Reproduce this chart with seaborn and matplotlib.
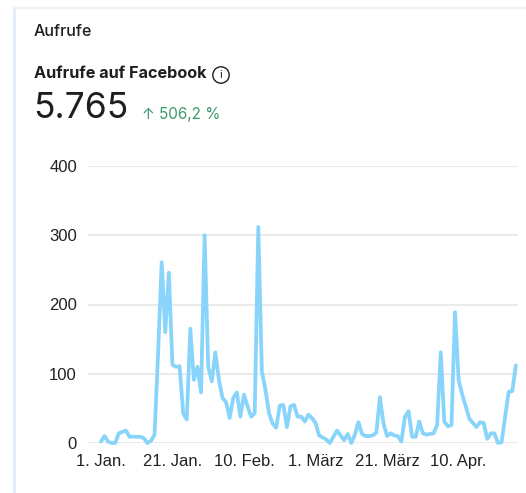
import matplotlib
matplotlib.use('Agg')  # no display
import matplotlib.pyplot as plt
from matplotlib.lines import Line2D
from matplotlib.patches import Circle
from matplotlib.ticker import FixedLocator, FixedFormatter
import numpy as np
import pandas as pd
import seaborn as sns

# daily views on Facebook, starting 1 Jan 2024
start_date = '2024-01-01'
views = [
    2, 10, 2, 0, 0, 14, 16, 18, 9, 9,
    9, 9, 7, 0, 3, 12, 130, 261, 160, 246,
    113, 110, 111, 43, 34, 165, 91, 110, 73, 300,
    110, 89, 131, 91, 65, 59, 36, 65, 73, 38,
    70, 53, 38, 43, 312, 103, 77, 43, 28, 22,
    54, 55, 23, 53, 55, 38, 38, 31, 41, 36,
    29, 11, 8, 5, 0, 9, 18, 11, 4, 13,
    0, 12, 30, 13, 10, 10, 11, 15, 66, 28,
    10, 14, 11, 10, 2, 38, 46, 9, 9, 31,
    14, 12, 13, 14, 26, 131, 31, 24, 26, 189,
    91, 70, 53, 35, 29, 23, 30, 29, 6, 14,
    14, 0, 1, 38, 74, 75, 112,
]

tick_dates = ['2024-01-01', '2024-01-21', '2024-02-10', '2024-03-01', '2024-03-21', '2024-04-10']
tick_labels = ['1. Jan.', '21. Jan.', '10. Feb.', '1. März', '21. März', '10. Apr.']
y_ticks = [0, 100, 200, 300, 400]

section_title = 'Aufrufe'
metric_title = 'Aufrufe auf Facebook'
total_text = '5.765'
change_text = '↑ 506,2 %'

df = pd.DataFrame({
    'date': pd.date_range(start_date, periods=len(views), freq='D'),
    'views': views,
})

sns.set_theme(style='white')
plt.rcParams['font.family'] = ['Liberation Sans', 'DejaVu Sans']

W, H = 526, 493
fig = plt.figure(figsize=(W / 100, H / 100), dpi=100)
fig.patch.set_facecolor('white')


def fx(px):
    return px / W


def fy(py):
    return 1 - py / H


# card border
fig.add_artist(Line2D([fx(14), fx(14)], [0, fy(8)], color='#dfe9f7', lw=1.8))
fig.add_artist(Line2D([fx(14), 1], [fy(8), fy(8)], color='#eef0f3', lw=1.5))

# header
head_font = ['Inter', 'DejaVu Sans']
fig.text(fx(34), fy(32), section_title, family=head_font, fontsize=11.5,
         color='#1c1e21', va='center', ha='left', fontweight='medium')
fig.text(fx(34), fy(74), metric_title, family=head_font, fontsize=11.7,
         color='#1c1e21', va='center', ha='left', fontweight='bold')
fig.add_artist(Circle((221 / 100, (H - 75) / 100), 0.082, transform=fig.dpi_scale_trans,
                      fill=False, ec='#1c1e21', lw=1.0))
fig.text(fx(221), fy(75.5), 'i', family=head_font, fontsize=8, color='#1c1e21',
         ha='center', va='center')
fig.text(fx(33), fy(109), total_text, family=head_font, fontsize=25.5,
         color='#1c1e21', va='center', ha='left')
fig.text(fx(142), fy(115), change_text, family=head_font, fontsize=11,
         color='#3d9a6b', va='center', ha='left')

# chart
ax = fig.add_axes([fx(88), fy(443), fx(518) - fx(88), (443 - 166) / H])
sns.lineplot(data=df, x='date', y='views', ax=ax, color='#88d4fa',
             linewidth=2.7, clip_on=False)

x0 = pd.Timestamp(start_date)
ax.set_xlim(x0 - pd.Timedelta(days=3.6), x0 + pd.Timedelta(days=116.6))
ax.set_ylim(0, 400)

ax.xaxis.set_major_locator(FixedLocator(matplotlib.dates.date2num(pd.to_datetime(tick_dates))))
ax.xaxis.set_major_formatter(FixedFormatter(tick_labels))
ax.set_yticks(y_ticks)
ax.set_yticklabels([str(v) for v in y_ticks])

ax.grid(axis='y', color='#e6e6e6', lw=1.2)
ax.grid(axis='x', visible=False)
ax.set_axisbelow(True)
for s in ax.spines.values():
    s.set_visible(False)
ax.tick_params(axis='both', length=0, labelsize=12, labelcolor='#222222')
ax.tick_params(axis='x', pad=8)
ax.tick_params(axis='y', pad=8)
ax.set_xlabel('')
ax.set_ylabel('')
ax.set_facecolor('white')

fig.savefig('out.png', dpi=100, facecolor='white')
